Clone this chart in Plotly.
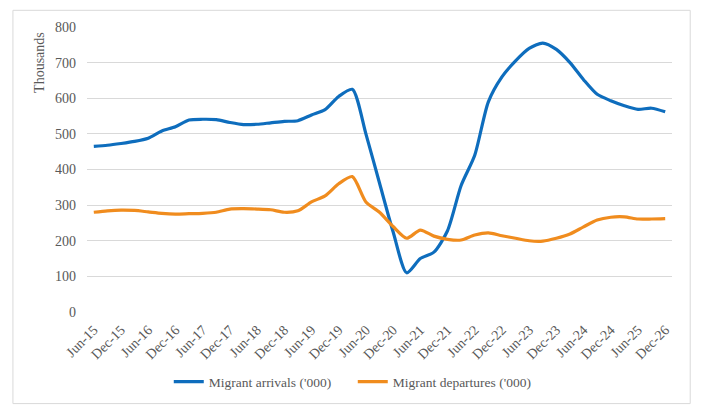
import plotly.graph_objects as go

quarters = ["Jun-15", "Sep-15", "Dec-15", "Mar-16", "Jun-16", "Sep-16", "Dec-16", "Mar-17",
            "Jun-17", "Sep-17", "Dec-17", "Mar-18", "Jun-18", "Sep-18", "Dec-18", "Mar-19",
            "Jun-19", "Sep-19", "Dec-19", "Mar-20", "Jun-20", "Sep-20", "Dec-20", "Mar-21",
            "Jun-21", "Sep-21", "Dec-21", "Mar-22", "Jun-22", "Sep-22", "Dec-22", "Mar-23",
            "Jun-23", "Sep-23", "Dec-23", "Mar-24", "Jun-24", "Sep-24", "Dec-24", "Mar-25",
            "Jun-25", "Sep-25", "Dec-26"]

tick_labels = ["Jun-15", "Dec-15", "Jun-16", "Dec-16", "Jun-17", "Dec-17", "Jun-18", "Dec-18",
               "Jun-19", "Dec-19", "Jun-20", "Dec-20", "Jun-21", "Dec-21", "Jun-22", "Dec-22",
               "Jun-23", "Dec-23", "Jun-24", "Dec-24", "Jun-25", "Dec-26"]

arrivals = [465, 468, 473, 479, 488, 508, 520, 539, 541, 540, 532, 526, 527, 531, 535, 537,
            553, 568, 605, 625, 500, 362, 225, 110, 150, 168, 228, 355, 440, 590, 660, 705,
            740, 755, 737, 700, 652, 611, 593, 579, 569, 572, 562]

departures = [280, 284, 286, 285, 281, 277, 275, 276, 277, 280, 289, 290, 289, 287, 280, 284,
              309, 326, 360, 380, 309, 280, 240, 207, 230, 213, 204, 202, 216, 222, 214, 207,
              200, 199, 207, 219, 239, 258, 266, 267, 261, 261, 262]

series_names = ["Migrant arrivals ('000)", "Migrant departures ('000)"]
colors = ["#0E6DBD", "#F08C1E"]

W, H = 704, 411
L, R, T, B = 87.3, 671.8, 26.7, 312.0
FONT = "Liberation Serif"
GREY = "#595959"

fig = go.Figure()
for name, vals, col in zip(series_names, [arrivals, departures], colors):
    fig.add_trace(go.Scatter(
        x=quarters, y=vals, mode="lines", name=name,
        line=dict(color=col, width=3.2, shape="spline", smoothing=0.7),
    ))

def px2paper(px, py):
    return (px - L) / (R - L), (B - py) / (B - T)

x0, y0 = px2paper(13.3, 403.7)
x1, y1 = px2paper(690.0, 10.0)
fig.add_shape(type="rect", xref="paper", yref="paper", x0=x0, y0=y0, x1=x1, y1=y1,
              line=dict(color="#D9D9D9", width=1), fillcolor="rgba(0,0,0,0)", layer="below")

tx, ty = px2paper(40, 62)
fig.add_annotation(text="Thousands", xref="paper", yref="paper", x=tx, y=ty,
                   textangle=-90, showarrow=False, xanchor="center", yanchor="middle",
                   font=dict(family=FONT, size=14, color=GREY))

lx, ly = px2paper(169, 382)
fig.update_layout(
    width=W, height=H,
    margin=dict(l=L, r=W - R, t=T, b=H - B, pad=0),
    paper_bgcolor="white", plot_bgcolor="white",
    font=dict(family=FONT, size=13, color=GREY),
    showlegend=True,
    legend=dict(orientation="h", x=lx, y=ly, xanchor="left", yanchor="middle",
                font=dict(family=FONT, size=13.5, color=GREY), itemwidth=30,
                entrywidth=139, entrywidthmode="pixels", tracegroupgap=0,
                bgcolor="rgba(0,0,0,0)"),
    xaxis=dict(type="category", range=[-0.5, len(quarters) - 0.5],
               tickmode="array", tickvals=quarters[::2], ticktext=tick_labels,
               tickangle=-45, showgrid=False, showline=False, zeroline=False,
               ticks="", ticklabelstandoff=6, tickfont=dict(family=FONT, size=14, color=GREY)),
    yaxis=dict(range=[0, 800], dtick=100, showgrid=True, gridcolor="#D9D9D9", gridwidth=1,
               zeroline=False, showline=False, ticks="", ticklabelstandoff=10,
               tickfont=dict(family=FONT, size=14, color=GREY)),
)

fig.write_html("out.html")
